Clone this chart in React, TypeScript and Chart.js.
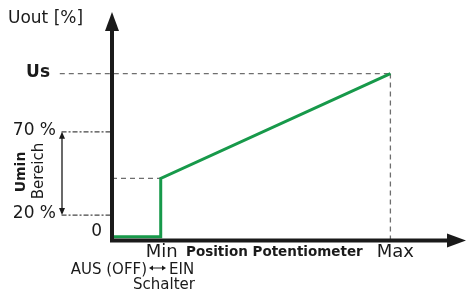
import React, { useEffect, useRef } from "react";
import { Chart, registerables } from "chart.js";

Chart.register(...registerables);

// Curve of output voltage vs. potentiometer position (schematic units)
const positions = [0, 14, 14, 80];
const uoutValues = [2, 2, 37, 100];

// Reference marks
const posMin = 14;
const posMax = 80;
const levelUs = 100;
const levelUmin = 37;
const level70 = 65;
const level20 = 15;

const yTickValues = [0, level20, level70, levelUs];
const yTickLabels = ["0", "20 %", "70 %", "Us"];
const xTickValues = [posMin, posMax];
const xTickLabels = ["Min", "Max"];

const FONT = "'DejaVu Sans', sans-serif";
const GREEN = "#17994a";
const DASH_GREY = "#6e6e6e";

export default function App() {
  const ref = useRef<HTMLCanvasElement | null>(null);

  useEffect(() => {
    document.body.style.margin = "0";
    const canvas = ref.current;
    if (!canvas) return;

    const overlay = {
      id: "overlay",
      afterDatasetsDraw(chart: any) {
        const ctx = chart.ctx as CanvasRenderingContext2D;
        const xs = chart.scales.x;
        const ys = chart.scales.y;
        const x0 = xs.getPixelForValue(0);
        const y0 = ys.getPixelForValue(0);
        const area = chart.chartArea;

        ctx.save();
        // Axes
        ctx.strokeStyle = "#1a1a1a";
        ctx.fillStyle = "#1a1a1a";
        ctx.lineWidth = 4;
        ctx.beginPath();
        ctx.moveTo(x0, y0 + 2);
        ctx.lineTo(x0, area.top + 16);
        ctx.stroke();
        ctx.beginPath();
        ctx.moveTo(x0, area.top);
        ctx.lineTo(x0 - 7, area.top + 19);
        ctx.lineTo(x0 + 7, area.top + 19);
        ctx.closePath();
        ctx.fill();

        ctx.beginPath();
        ctx.moveTo(x0 - 2, y0 + 0.5);
        ctx.lineTo(area.right - 12, y0 + 0.5);
        ctx.stroke();
        ctx.beginPath();
        ctx.moveTo(area.right + 6, y0 + 0.5);
        ctx.lineTo(area.right - 13, y0 - 6.5);
        ctx.lineTo(area.right - 13, y0 + 7.5);
        ctx.closePath();
        ctx.fill();

        // Double arrow for Umin range
        const ax = 62;
        const ya = ys.getPixelForValue(level70);
        const yb = ys.getPixelForValue(level20);
        ctx.lineWidth = 1.3;
        ctx.beginPath();
        ctx.moveTo(ax, ya + 2);
        ctx.lineTo(ax, yb - 2);
        ctx.stroke();
        ctx.beginPath();
        ctx.moveTo(ax, ya);
        ctx.lineTo(ax - 3, ya + 7);
        ctx.lineTo(ax + 3, ya + 7);
        ctx.closePath();
        ctx.fill();
        ctx.beginPath();
        ctx.moveTo(ax, yb);
        ctx.lineTo(ax - 3, yb - 7);
        ctx.lineTo(ax + 3, yb - 7);
        ctx.closePath();
        ctx.fill();

        // Texts
        ctx.fillStyle = "#1a1a1a";
        ctx.textBaseline = "middle";
        ctx.textAlign = "left";
        ctx.font = `17px ${FONT}`;
        ctx.fillText("Uout [%]", 8, 19);

        // y tick labels
        const yRight = [102, 56, 56, 50];
        yTickValues.forEach((v, i) => {
          const py = ys.getPixelForValue(v);
          ctx.textAlign = "right";
          ctx.font = i === 3 ? `bold 17px ${FONT}` : `17px ${FONT}`;
          ctx.fillText(yTickLabels[i], yRight[i], i === 0 ? py - 8 : py - 1);
        });

        // rotated Umin / Bereich
        ctx.save();
        ctx.translate(21, 172);
        ctx.rotate(-Math.PI / 2);
        ctx.textAlign = "center";
        ctx.font = `bold 14px ${FONT}`;
        ctx.fillText("Umin", 0, 0);
        ctx.restore();
        ctx.save();
        ctx.translate(39, 171);
        ctx.rotate(-Math.PI / 2);
        ctx.textAlign = "center";
        ctx.font = `15px ${FONT}`;
        ctx.fillText("Bereich", 0, 0);
        ctx.restore();

        // x tick labels
        xTickValues.forEach((v, i) => {
          const px = xs.getPixelForValue(v) + (i === 1 ? 5 : 1);
          ctx.textAlign = "center";
          ctx.font = `18px ${FONT}`;
          ctx.fillText(xTickLabels[i], px, y0 + 12);
        });
        ctx.textAlign = "left";
        ctx.font = `bold 13.5px ${FONT}`;
        ctx.fillText("Position Potentiometer", 186, y0 + 12);

        ctx.font = `15px ${FONT}`;
        ctx.textAlign = "right";
        ctx.fillText("AUS (OFF)", 147, y0 + 30);
        ctx.textAlign = "left";
        ctx.fillText("EIN", 169, y0 + 30);
        ctx.textAlign = "center";
        ctx.fillText("Schalter", 164, y0 + 45);

        // small double arrow between AUS and EIN
        ctx.lineWidth = 1;
        ctx.beginPath();
        ctx.moveTo(151, y0 + 28);
        ctx.lineTo(164, y0 + 28);
        ctx.stroke();
        ctx.beginPath();
        ctx.moveTo(149, y0 + 28);
        ctx.lineTo(153, y0 + 25.5);
        ctx.lineTo(153, y0 + 30.5);
        ctx.closePath();
        ctx.fill();
        ctx.beginPath();
        ctx.moveTo(166, y0 + 28);
        ctx.lineTo(162, y0 + 25.5);
        ctx.lineTo(162, y0 + 30.5);
        ctx.closePath();
        ctx.fill();
        ctx.restore();
      },
    };

    const dashed = (pts: { x: number; y: number }[], dash: number[], color = DASH_GREY) => ({
      type: "line" as const,
      data: pts,
      borderColor: color,
      borderWidth: 1.3,
      borderDash: dash,
      pointRadius: 0,
      fill: false,
      tension: 0,
      clip: false as any,
      order: 2,
    });

    const chart = new Chart(canvas, {
      type: "line",
      data: {
        datasets: [
          {
            data: positions.map((p, i) => ({ x: p, y: uoutValues[i] })),
            borderColor: GREEN,
            borderWidth: 3,
            pointRadius: 0,
            fill: false,
            tension: 0,
            clip: false as any,
            order: 1,
          },
          dashed([{ x: -15, y: levelUs }, { x: posMax, y: levelUs }], [5, 4]),
          dashed([{ x: posMax, y: levelUs }, { x: posMax, y: 0 }], [5, 4]),
          dashed([{ x: 0, y: levelUmin }, { x: posMin, y: levelUmin }], [5, 4]),
          dashed([{ x: -14.5, y: level70 }, { x: 0, y: level70 }], [5, 2, 2, 2], "#444"),
          dashed([{ x: -14.5, y: level20 }, { x: 0, y: level20 }], [5, 2, 2, 2], "#444"),
        ],
      },
      options: {
        responsive: false,
        animation: false,
        events: [],
        layout: { padding: { left: 112, right: 7, top: 12, bottom: 55 } },
        plugins: { legend: { display: false }, tooltip: { enabled: false } },
        scales: {
          x: { type: "linear", min: 0, max: 100, display: false },
          y: { type: "linear", min: 0, max: 137, display: false },
        },
      },
      plugins: [overlay],
    });
    return () => chart.destroy();
  }, []);

  return (
    <div style={{ position: "absolute", left: 0, top: 0, width: 467, height: 295 }}>
      <canvas ref={ref} width={467} height={295} />
    </div>
  );
}
